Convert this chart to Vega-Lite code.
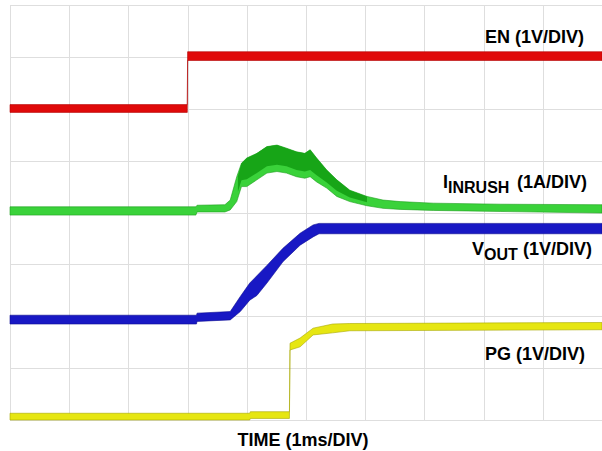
{
  "$schema": "https://vega.github.io/schema/vega-lite/v6.json",
  "width": 592,
  "height": 415,
  "autosize": {"type": "none"},
  "padding": {"left": 10, "top": 5, "right": 0, "bottom": 31},
  "background": "white",
  "config": {
    "view": {"stroke": "#cfcfcf", "strokeWidth": 1},
    "font": "Liberation Sans"
  },
  "datasets": {
    "traces": [
      {"series": "EN", "t": 0, "lo": 5.93, "hi": 6.08},
      {"series": "EN", "t": 2.995, "lo": 5.93, "hi": 6.08},
      {"series": "EN", "t": 3.0, "lo": 6.93, "hi": 7.1},
      {"series": "EN", "t": 10, "lo": 6.93, "hi": 7.1},

      {"series": "INRUSH", "t": 0, "lo": 3.95, "hi": 4.11},
      {"series": "INRUSH", "t": 3.14, "lo": 3.95, "hi": 4.11},
      {"series": "INRUSH", "t": 3.16, "lo": 4.01, "hi": 4.14},
      {"series": "INRUSH", "t": 3.63, "lo": 4.01, "hi": 4.15},
      {"series": "INRUSH", "t": 3.72, "lo": 4.05, "hi": 4.24},
      {"series": "INRUSH", "t": 3.83, "lo": 4.21, "hi": 4.69},
      {"series": "INRUSH", "t": 3.91, "lo": 4.5, "hi": 4.95},
      {"series": "INRUSH", "t": 4.0, "lo": 4.5, "hi": 5.05},
      {"series": "INRUSH", "t": 4.17, "lo": 4.63, "hi": 5.14},
      {"series": "INRUSH", "t": 4.34, "lo": 4.76, "hi": 5.27},
      {"series": "INRUSH", "t": 4.51, "lo": 4.79, "hi": 5.3},
      {"series": "INRUSH", "t": 4.67, "lo": 4.76, "hi": 5.24},
      {"series": "INRUSH", "t": 4.84, "lo": 4.69, "hi": 5.17},
      {"series": "INRUSH", "t": 4.98, "lo": 4.66, "hi": 5.14},
      {"series": "INRUSH", "t": 5.07, "lo": 4.69, "hi": 5.21},
      {"series": "INRUSH", "t": 5.18, "lo": 4.59, "hi": 5.05},
      {"series": "INRUSH", "t": 5.35, "lo": 4.47, "hi": 4.82},
      {"series": "INRUSH", "t": 5.52, "lo": 4.31, "hi": 4.63},
      {"series": "INRUSH", "t": 5.74, "lo": 4.21, "hi": 4.43},
      {"series": "INRUSH", "t": 6.03, "lo": 4.13, "hi": 4.31},
      {"series": "INRUSH", "t": 6.3, "lo": 4.08, "hi": 4.24},
      {"series": "INRUSH", "t": 6.59, "lo": 4.06, "hi": 4.21},
      {"series": "INRUSH", "t": 7.15, "lo": 4.04, "hi": 4.18},
      {"series": "INRUSH", "t": 8.28, "lo": 4.02, "hi": 4.16},
      {"series": "INRUSH", "t": 10, "lo": 3.99, "hi": 4.15},

      {"series": "VOUT", "t": 0, "lo": 1.85, "hi": 2.02},
      {"series": "VOUT", "t": 3.15, "lo": 1.85, "hi": 2.02},
      {"series": "VOUT", "t": 3.16, "lo": 1.9, "hi": 2.06},
      {"series": "VOUT", "t": 3.72, "lo": 1.93, "hi": 2.09},
      {"series": "VOUT", "t": 3.89, "lo": 2.09, "hi": 2.38},
      {"series": "VOUT", "t": 4.05, "lo": 2.31, "hi": 2.64},
      {"series": "VOUT", "t": 4.17, "lo": 2.4, "hi": 2.78},
      {"series": "VOUT", "t": 4.34, "lo": 2.64, "hi": 2.98},
      {"series": "VOUT", "t": 4.61, "lo": 3.05, "hi": 3.31},
      {"series": "VOUT", "t": 4.9, "lo": 3.37, "hi": 3.6},
      {"series": "VOUT", "t": 5.12, "lo": 3.53, "hi": 3.76},
      {"series": "VOUT", "t": 5.22, "lo": 3.59, "hi": 3.79},
      {"series": "VOUT", "t": 10, "lo": 3.59, "hi": 3.79},

      {"series": "PG", "t": 0, "lo": 0.0, "hi": 0.13},
      {"series": "PG", "t": 4.05, "lo": 0.0, "hi": 0.13},
      {"series": "PG", "t": 4.06, "lo": 0.03, "hi": 0.16},
      {"series": "PG", "t": 4.72, "lo": 0.03, "hi": 0.16},
      {"series": "PG", "t": 4.73, "lo": 1.35, "hi": 1.48},
      {"series": "PG", "t": 4.9, "lo": 1.41, "hi": 1.58},
      {"series": "PG", "t": 5.12, "lo": 1.64, "hi": 1.77},
      {"series": "PG", "t": 5.45, "lo": 1.68, "hi": 1.85},
      {"series": "PG", "t": 5.74, "lo": 1.72, "hi": 1.86},
      {"series": "PG", "t": 10, "lo": 1.74, "hi": 1.88}
    ],
    "core": [
      {"series": "INRUSH core", "t": 3.85, "lo": 4.4, "hi": 4.7},
      {"series": "INRUSH core", "t": 3.91, "lo": 4.62, "hi": 4.95},
      {"series": "INRUSH core", "t": 4.0, "lo": 4.64, "hi": 5.05},
      {"series": "INRUSH core", "t": 4.17, "lo": 4.76, "hi": 5.14},
      {"series": "INRUSH core", "t": 4.34, "lo": 4.89, "hi": 5.27},
      {"series": "INRUSH core", "t": 4.51, "lo": 4.92, "hi": 5.3},
      {"series": "INRUSH core", "t": 4.67, "lo": 4.89, "hi": 5.24},
      {"series": "INRUSH core", "t": 4.84, "lo": 4.82, "hi": 5.17},
      {"series": "INRUSH core", "t": 4.98, "lo": 4.79, "hi": 5.14},
      {"series": "INRUSH core", "t": 5.07, "lo": 4.82, "hi": 5.21},
      {"series": "INRUSH core", "t": 5.18, "lo": 4.72, "hi": 5.05},
      {"series": "INRUSH core", "t": 5.35, "lo": 4.58, "hi": 4.82},
      {"series": "INRUSH core", "t": 5.52, "lo": 4.42, "hi": 4.63},
      {"series": "INRUSH core", "t": 5.74, "lo": 4.29, "hi": 4.43},
      {"series": "INRUSH core", "t": 6.03, "lo": 4.2, "hi": 4.31}
    ],
    "labels": [
      {"t": 8.024, "v": 7.262, "label": "EN (1V/DIV)"},
      {"t": 7.314, "v": 4.48, "label": "I"},
      {"t": 8.564, "v": 4.48, "label": "(1A/DIV)"},
      {"t": 7.804, "v": 3.181, "label": "V"},
      {"t": 8.666, "v": 3.181, "label": "(1V/DIV)"},
      {"t": 8.024, "v": 1.157, "label": "PG (1V/DIV)"}
    ],
    "sublabels": [
      {"t": 7.399, "v": 4.376, "label": "INRUSH"},
      {"t": 8.007, "v": 3.084, "label": "OUT"}
    ]
  },
  "layer": [
    {
      "data": {"name": "traces"},
      "mark": {"type": "area", "clip": false, "strokeWidth": 0.6},
      "encoding": {
        "x": {
          "field": "t", "type": "quantitative",
          "scale": {"domain": [0, 10], "nice": false, "zero": false},
          "axis": {
            "values": [0, 1, 2, 3, 4, 5, 6, 7, 8, 9, 10],
            "grid": true, "gridColor": "#dedede", "gridWidth": 1,
            "labels": false, "ticks": false, "domain": false,
            "title": "TIME (1ms/DIV)",
            "titleFont": "Liberation Sans", "titleFontSize": 18, "titleFontWeight": "bold",
            "titleColor": "black", "titlePadding": 11, "titleX": 292.5
          }
        },
        "y": {
          "field": "hi", "type": "quantitative",
          "scale": {"domain": [0, 8], "nice": false, "zero": false},
          "axis": {
            "values": [0, 1, 2, 3, 4, 5, 6, 7, 8],
            "grid": true, "gridColor": "#dedede", "gridWidth": 1,
            "labels": false, "ticks": false, "domain": false, "title": null
          }
        },
        "y2": {"field": "lo"},
        "color": {
          "field": "series", "type": "nominal",
          "scale": {"domain": ["EN", "INRUSH", "VOUT", "PG"], "range": ["#e00a0a", "#3ad23a", "#1818c4", "#e6e612"]},
          "legend": null
        },
        "stroke": {
          "field": "series", "type": "nominal",
          "scale": {"domain": ["EN", "INRUSH", "VOUT", "PG"], "range": ["#b00000", "#1d9e1d", "#0c0c90", "#a8a800"]},
          "legend": null
        }
      }
    },
    {
      "data": {"name": "core"},
      "mark": {"type": "area", "clip": false, "color": "#14a014", "opacity": 0.9},
      "encoding": {
        "x": {"field": "t", "type": "quantitative"},
        "y": {"field": "hi", "type": "quantitative"},
        "y2": {"field": "lo"}
      }
    },
    {
      "mark": {"type": "rule", "color": "#b8b8b8", "strokeDash": [2, 4], "strokeWidth": 1},
      "encoding": {"x": {"datum": 5}}
    },
    {
      "mark": {"type": "rule", "color": "#b8b8b8", "strokeDash": [2, 4], "strokeWidth": 1},
      "encoding": {"y": {"datum": 4}}
    },
    {
      "data": {"name": "labels"},
      "mark": {"type": "text", "font": "Liberation Sans", "fontSize": 18, "fontWeight": "bold", "align": "left", "baseline": "alphabetic", "color": "black"},
      "encoding": {
        "x": {"field": "t", "type": "quantitative"},
        "y": {"field": "v", "type": "quantitative"},
        "text": {"field": "label"}
      }
    },
    {
      "data": {"name": "sublabels"},
      "mark": {"type": "text", "font": "Liberation Sans", "fontSize": 16, "fontWeight": "bold", "align": "left", "baseline": "alphabetic", "color": "black"},
      "encoding": {
        "x": {"field": "t", "type": "quantitative"},
        "y": {"field": "v", "type": "quantitative"},
        "text": {"field": "label"}
      }
    }
  ]
}
